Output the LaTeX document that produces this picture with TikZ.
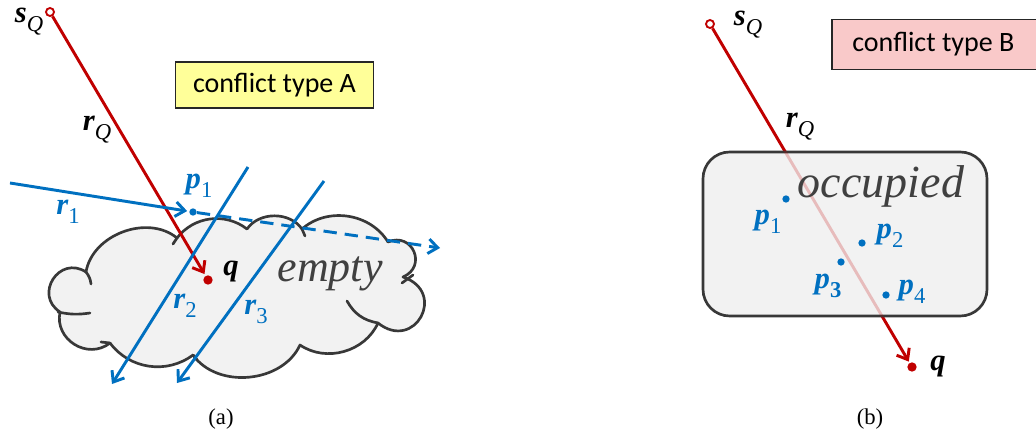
\documentclass[tikz,border=0pt]{standalone}
\usepackage{fontspec}
\setmainfont{Liberation Serif}[BoldFont={Liberation Serif Bold},ItalicFont={Liberation Serif Italic},BoldItalicFont={Liberation Serif Bold Italic}]
\newfontfamily\boxfont{Carlito}
\usetikzlibrary{arrows.meta}
\definecolor{rq}{RGB}{192,0,0}
\definecolor{bl}{RGB}{0,112,192}
\definecolor{ylw}{RGB}{255,255,153}
\definecolor{pnk}{RGB}{249,201,201}
\definecolor{edge}{RGB}{56,56,56}
\definecolor{fillg}{RGB}{242,242,242}
\definecolor{txtg}{RGB}{64,64,64}
\newcommand{\vlab}[2]{{\bfseries\itshape #1}\raisebox{-0.3em}{\fontsize{17}{17}\selectfont #2}}
\tikzset{
  tip/.style={-{Straight Barb[length=7pt,width=11pt]}},
  redray/.style={draw=rq,line width=2.2pt,tip},
  blueray/.style={draw=bl,line width=2.2pt,tip},
  bluedash/.style={draw=bl,line width=2.2pt,tip,dash pattern=on 10pt off 6pt},
  fadedray/.style={draw=rq,opacity=0.22,line width=2.2pt},
  dotb/.style={circle,fill=bl,inner sep=0pt,minimum size=5.5pt},
  dotr/.style={circle,fill=rq,inner sep=0pt,minimum size=7pt},
  srcpt/.style={circle,draw=rq,fill=white,line width=1.4pt,inner sep=0pt,minimum size=6pt},
  lab/.style={inner sep=0pt,font=\fontsize{23}{23}\selectfont},
  blab/.style={lab,text=bl},
  typebox/.style={draw=black!85,line width=0.9pt,inner sep=0pt,font=\boxfont\fontsize{21}{21}\selectfont},
  cloudst/.style={draw=edge,fill=fillg,line width=2pt,line join=round},
  curl/.style={draw=edge,line width=2pt,line cap=round},
  bigword/.style={inner sep=0pt,text=txtg,font=\itshape\fontsize{33}{33}\selectfont},
  capt/.style={inner sep=0pt,font=\fontsize{17}{17}\selectfont},
}
\begin{document}
\begin{tikzpicture}[x=0.75pt,y=-0.75pt]
\useasboundingbox (0,0) rectangle (1036,431);
% ---------- panel (a) ----------
\draw[cloudst] (60,312) to[bend left=90,looseness=1.7] (86,272)
 to[bend left=60] (177,238)
 to[bend left=45] (247,229)
 to[bend left=55] (302,229)
 to[bend left=50] (388,242)
 to[bend left=90,looseness=1.8] (403,277)
 to[bend left=100,looseness=2.3] (378,323)
 to[bend left=50] (300,345)
 to[bend left=60] (193,355)
 to[bend left=45] (110,343)
 to[bend left=70,looseness=1.23] (60,312) -- cycle;
\draw[curl] (86,272) to[bend left=15] (91,284);
\draw[curl] (58,312) to[bend right=10] (90,313);
\draw[curl] (378,323) to[bend left=25] (347,301);
\draw[curl] (413,275) -- (402,283);
\draw[curl] (302,229) -- (305,236);
\draw[curl] (177,238) -- (173,244);
\draw[curl] (193,355) -- (197,360);
\draw[curl] (110,343) -- (101,342);

\node[bigword] (empty) at (330,274) {empty};

\node[typebox,fill=ylw,minimum width=149pt,minimum height=34.5pt] (boxA) at (274.5,85) {conflict type A};

\node[srcpt] (sQa) at (50,12) {};
\node[dotr] (qa) at (208,280) {};
\draw[redray,shorten >=1.5pt] (sQa) -- (qa);
\node[lab] (sQalab) at (29,22) {\vlab{s}{\itshape Q}};
\node[lab] (rQalab) at (97,130) {\vlab{r}{\itshape Q}};
\node[lab] (qalab) at (231,272) {\bfseries\itshape q};

\coordinate (r1s) at (10,183);
\node[dotb] (p1a) at (193,212) {};
\coordinate (r1e) at (440,248);
\draw[blueray,shorten >=1.5pt] (r1s) -- (p1a);
\draw[bluedash] (p1a) -- (r1e);
\coordinate (r2s) at (248,167);
\coordinate (r2e) at (112,384);
\draw[blueray] (r2s) -- (r2e);
\coordinate (r3s) at (324,181);
\coordinate (r3e) at (177,383);
\draw[blueray] (r3s) -- (r3e);
\node[blab] (p1alab) at (199,186) {\vlab{p}{1}};
\node[blab] (r1lab) at (68,212) {\vlab{r}{1}};
\node[blab] (r2lab) at (185,306) {\vlab{r}{2}};
\node[blab] (r3lab) at (256,312) {\vlab{r}{3}};

\node[capt] (capa) at (221,419) {(a)};

% ---------- panel (b) ----------
\node[typebox,fill=pnk,minimum width=156pt,minimum height=38pt] (boxB) at (936,44.5) {\hspace*{-2pt}conflict type B\hspace*{2pt}};

\node[srcpt] (sQb) at (710,24) {};
\node[dotr] (qb) at (912,367) {};
\draw[redray,shorten >=1pt] (sQb) -- (qb);
\node[draw=edge,fill=fillg,line width=2pt,rounded corners=20pt,minimum width=213pt,minimum height=123pt] (occ) at (845,234) {};
\begin{scope}
\clip[rounded corners=20pt] (occ.south west) rectangle (occ.north east);
\draw[fadedray] (sQb) -- (qb);
\end{scope}
\node[lab] (sQblab) at (748,25) {\vlab{s}{\itshape Q}};
\node[lab] (rQblab) at (800,127) {\vlab{r}{\itshape Q}};
\node[lab] (qblab) at (938,367) {\bfseries\itshape q};
\node[bigword,font=\itshape\fontsize{34.5}{34.5}\selectfont] (occw) at (881,186) {occupied};

\node[dotb] (p1b) at (786,199) {};
\node[dotb] (p2b) at (862,243) {};
\node[dotb] (p3b) at (841,262) {};
\node[dotb] (p4b) at (886,295) {};
\node[blab] (p1blab) at (768,222) {\vlab{p}{1}};
\node[blab] (p2blab) at (890,236) {\vlab{p}{2}};
\node[blab] (p3blab) at (828,286) {\vlab{p}{\bfseries 3}};
\node[blab] (p4blab) at (912,292) {\vlab{p}{4}};

\node[capt] (capb) at (870,419) {(b)};
\end{tikzpicture}
\end{document}
